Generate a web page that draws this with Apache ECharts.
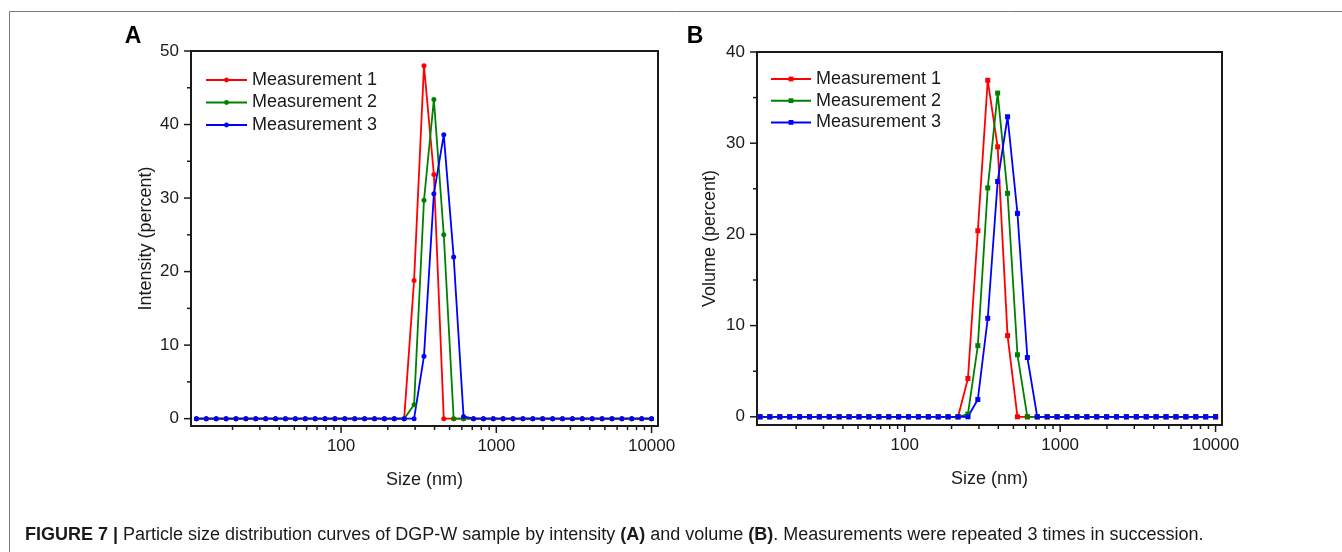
<!DOCTYPE html>
<html>
<head>
<meta charset="utf-8">
<title>FIGURE 7</title>
<script src="https://cdn.jsdelivr.net/npm/echarts@6.0.0/dist/echarts.min.js"></script>
<style>
html,body{margin:0;padding:0;background:#fff;}
#size_dist{width:1342px;height:552px;}
</style>
</head>
<body>
<div id="size_dist"></div>
<script>
// size classes (nm) of the instrument, the ones inside the plot
var sizes = [11.7, 13.54, 15.69, 18.17, 21.04, 24.36, 28.21, 32.67, 37.84, 43.82, 50.75, 58.77,
    68.06, 78.82, 91.28, 105.7, 122.4, 141.8, 164.2, 190.1, 220.2, 255.0, 295.3, 342.0, 396.1,
    458.7, 531.2, 615.1, 712.4, 825.0, 955.4, 1106, 1281, 1484, 1718, 1990, 2305, 2669, 3091,
    3580, 4145, 4801, 5560, 6439, 7456, 8635, 10000];
// peak window, every other class reads 0
var peakSizes = [220.2, 255.0, 295.3, 342.0, 396.1, 458.7, 531.2, 615.1, 712.4];
var intensity1 = [0, 0, 18.8, 48.0, 33.2, 0, 0, 0, 0];
var intensity2 = [0, 0, 1.9, 29.7, 43.4, 25.0, 0, 0, 0];
var intensity3 = [0, 0, 0, 8.5, 30.6, 38.6, 22.0, 0.3, 0];
var volume1 = [0, 4.2, 20.4, 36.9, 29.6, 8.9, 0, 0, 0];
var volume2 = [0, 0.3, 7.8, 25.1, 35.5, 24.5, 6.8, 0, 0];
var volume3 = [0, 0, 1.9, 10.8, 25.8, 32.9, 22.3, 6.5, 0];
var seriesNames = ['Measurement 1', 'Measurement 2', 'Measurement 3'];
var xMajorTicks = [100, 1000, 10000];
var xMinorTicks = [20, 30, 40, 50, 60, 70, 80, 90, 200, 300, 400, 500, 600, 700, 800, 900,
    2000, 3000, 4000, 5000, 6000, 7000, 8000, 9000];
var intensityTicks = [0, 10, 20, 30, 40, 50];
var intensityMinor = [5, 15, 25, 35, 45];
var volumeTicks = [0, 10, 20, 30, 40];
var volumeMinor = [5, 15, 25, 35];

var colors = ['#ff0000', '#008000', '#0000ff'];
var fontFam = "'Liberation Sans', Arial, sans-serif";
var ink = '#1a1a1a';

$ready();

function $ready() {
    size_dist();
}

function toPoints(vals) {
    return sizes.map(function (s) {
        var i = peakSizes.indexOf(s);
        return [s, i < 0 ? 0 : vals[i]];
    });
}

// tick rows for the custom series: [x, y, kind(0=x,1=y), length]
function tickRows(yMajor, yMinor) {
    var rows = [];
    xMajorTicks.forEach(function (v) { rows.push([v, 0, 0, 7]); });
    xMinorTicks.forEach(function (v) { rows.push([v, 0, 0, 4]); });
    yMajor.forEach(function (v) { rows.push([100, v, 1, 7]); });
    yMinor.forEach(function (v) { rows.push([100, v, 1, 4]); });
    return rows;
}

function renderTick(params, api) {
    var box = params.coordSys;
    var p = api.coord([api.value(0), api.value(1)]);
    var len = api.value(3);
    var shape;
    if (api.value(2) === 0) {
        var yb = box.y + box.height;
        shape = {x1: p[0], y1: yb, x2: p[0], y2: yb + len};
    } else {
        shape = {x1: box.x - len, y1: p[1], x2: box.x, y2: p[1]};
    }
    return {type: 'line', shape: shape, style: {stroke: ink, lineWidth: 1.5}};
}

function logLabel(v) {
    var l = Math.log10(v);
    return Math.abs(l - Math.round(l)) < 1e-6 ? String(Math.round(v)) : '';
}

function tenLabel(v) {
    return (v >= 0 && Math.abs(v % 10) < 1e-6) ? String(v) : '';
}

function xAxisOf(grid, min) {
    return {
        type: 'log', logBase: 10, gridIndex: grid,
        min: min, max: 11000,
        name: 'Size (nm)', nameLocation: 'middle', nameGap: 45,
        nameTextStyle: {fontSize: 18, color: ink, fontFamily: fontFam},
        axisLine: {show: false},
        axisTick: {show: false},
        splitLine: {show: false},
        axisLabel: {fontSize: 17, color: ink, fontFamily: fontFam, margin: 12, formatter: logLabel}
    };
}

function yAxisOf(grid, min, max, name, gap) {
    return {
        type: 'value', gridIndex: grid,
        min: min, max: max,
        name: name, nameLocation: 'middle', nameGap: gap,
        nameTextStyle: {fontSize: 18, color: ink, fontFamily: fontFam},
        axisLine: {show: false},
        axisTick: {show: false},
        splitLine: {show: false},
        axisLabel: {fontSize: 17, color: ink, fontFamily: fontFam, margin: 12, formatter: tenLabel}
    };
}

function lineSeries(name, grid, vals, idx, symbol) {
    return {
        name: name, type: 'line',
        xAxisIndex: grid, yAxisIndex: grid,
        data: toPoints(vals),
        color: colors[idx],
        symbol: symbol, symbolSize: 5,
        showSymbol: true, showAllSymbol: true,
        lineStyle: {width: 1.8},
        animation: false
    };
}

function size_dist() {
    var chart = echarts.init(document.getElementById('size_dist'));
    // B uses the same names with a trailing space so each legend keeps its own marker
    var namesB = seriesNames.map(function (n) { return n + ' '; });
    var option = {
        animation: false,
        backgroundColor: '#fff',
        textStyle: {fontFamily: fontFam},
        grid: [
            {left: 191, top: 51, width: 467, height: 375, show: true, borderColor: ink, borderWidth: 2, outerBoundsMode: 'none'},
            {left: 757, top: 52, width: 465, height: 373, show: true, borderColor: ink, borderWidth: 2, outerBoundsMode: 'none'}
        ],
        legend: [
            {
                data: seriesNames, orient: 'vertical', left: 205, top: 70, padding: 0,
                itemWidth: 41, itemHeight: 6, itemGap: 2.5,
                textStyle: {fontSize: 18, color: ink, fontFamily: fontFam, lineHeight: 20},
                selectedMode: false
            },
            {
                data: namesB, orient: 'vertical', left: 770, top: 69, padding: 0,
                itemWidth: 40, itemHeight: 6, itemGap: 1.7,
                textStyle: {fontSize: 18, color: ink, fontFamily: fontFam, lineHeight: 20},
                selectedMode: false
            }
        ],
        xAxis: [xAxisOf(0, 10.8), xAxisOf(1, 11.2)],
        yAxis: [
            yAxisOf(0, -1, 50, 'Intensity (percent)', 36),
            yAxisOf(1, -0.9, 40, 'Volume (percent)', 38)
        ],
        series: [
            lineSeries(seriesNames[0], 0, intensity1, 0, 'circle'),
            lineSeries(seriesNames[1], 0, intensity2, 1, 'circle'),
            lineSeries(seriesNames[2], 0, intensity3, 2, 'circle'),
            lineSeries(namesB[0], 1, volume1, 0, 'rect'),
            lineSeries(namesB[1], 1, volume2, 1, 'rect'),
            lineSeries(namesB[2], 1, volume3, 2, 'rect'),
            {
                type: 'custom', xAxisIndex: 0, yAxisIndex: 0, silent: true, clip: false,
                renderItem: renderTick, data: tickRows(intensityTicks, intensityMinor)
            },
            {
                type: 'custom', xAxisIndex: 1, yAxisIndex: 1, silent: true, clip: false,
                renderItem: renderTick, data: tickRows(volumeTicks, volumeMinor)
            }
        ],
        graphic: [
            {type: 'rect', shape: {x: 9.5, y: 11.5, width: 2000, height: 1000}, style: {fill: null, stroke: '#7a7a7a', lineWidth: 1}, silent: true},
            {type: 'text', x: 133, y: 37, style: {text: 'A', fontSize: 23, fontWeight: 'bold', fontFamily: fontFam, fill: '#000', align: 'center', verticalAlign: 'middle'}},
            {type: 'text', x: 695, y: 37, style: {text: 'B', fontSize: 23, fontWeight: 'bold', fontFamily: fontFam, fill: '#000', align: 'center', verticalAlign: 'middle'}},
            {
                type: 'text', x: 25, y: 535,
                style: {
                    text: '{b|FIGURE 7 |} Particle size distribution curves of DGP-W sample by intensity {b|(A)} and volume {b|(B)}. Measurements were repeated 3 times in succession.',
                    fontSize: 18, fontFamily: fontFam, fill: ink, verticalAlign: 'middle',
                    rich: {b: {fontSize: 18, fontFamily: fontFam, fontWeight: 'bold', fill: ink}}
                }
            }
        ]
    };
    chart.setOption(option);
}
</script>
</body>
</html>
